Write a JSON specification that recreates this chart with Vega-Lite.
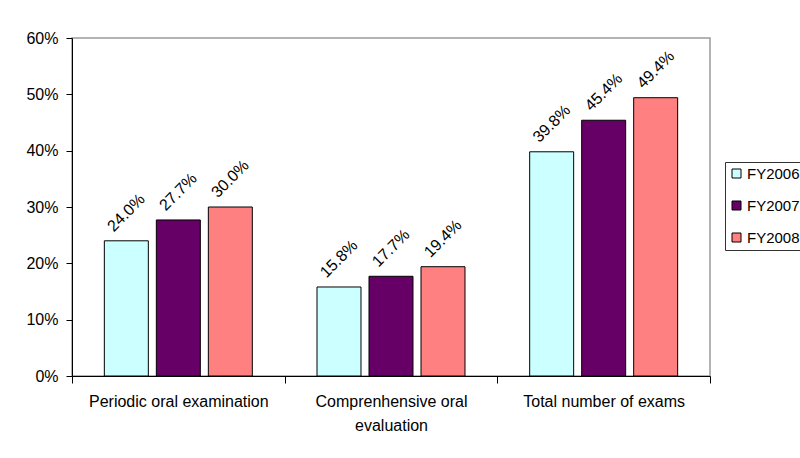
{
  "$schema": "https://vega.github.io/schema/vega-lite/v6.json",
  "autosize": {"type": "none"},
  "width": 638,
  "height": 338,
  "padding": {"left": 72, "top": 38, "right": 90, "bottom": 82},
  "background": "white",
  "config": {
    "font": "Liberation Sans",
    "view": {"stroke": "#9a9a9a", "strokeWidth": 1.5}
  },
  "data": {
    "values": [
      {"measure": "Periodic oral examination", "year": "FY2006", "rate": 0.240},
      {"measure": "Periodic oral examination", "year": "FY2007", "rate": 0.277},
      {"measure": "Periodic oral examination", "year": "FY2008", "rate": 0.300},
      {"measure": "Comprenhensive oral evaluation", "year": "FY2006", "rate": 0.158},
      {"measure": "Comprenhensive oral evaluation", "year": "FY2007", "rate": 0.177},
      {"measure": "Comprenhensive oral evaluation", "year": "FY2008", "rate": 0.194},
      {"measure": "Total number of exams", "year": "FY2006", "rate": 0.398},
      {"measure": "Total number of exams", "year": "FY2007", "rate": 0.454},
      {"measure": "Total number of exams", "year": "FY2008", "rate": 0.494}
    ]
  },
  "encoding": {
    "x": {
      "field": "measure",
      "type": "nominal",
      "sort": null,
      "scale": {"paddingInner": 0, "paddingOuter": 0},
      "axis": {
        "title": null,
        "labelAngle": 0,
        "labelFontSize": 16,
        "labelColor": "black",
        "labelPadding": 10,
        "labelLineHeight": 24,
        "labelExpr": "datum.value == 'Comprenhensive oral evaluation' ? ['Comprenhensive oral', 'evaluation'] : datum.value",
        "domainColor": "black",
        "tickColor": "black",
        "tickSize": 7,
        "tickBand": "extent",
        "grid": false
      }
    },
    "xOffset": {
      "field": "year",
      "type": "nominal",
      "scale": {"paddingInner": 0.154, "paddingOuter": 0.622}
    },
    "y": {
      "field": "rate",
      "type": "quantitative",
      "scale": {"domain": [0, 0.6]},
      "axis": {
        "title": null,
        "format": ".0%",
        "values": [0, 0.1, 0.2, 0.3, 0.4, 0.5, 0.6],
        "labelFontSize": 16,
        "labelColor": "black",
        "labelPadding": 8,
        "domainColor": "black",
        "tickColor": "black",
        "tickSize": 6,
        "grid": false
      }
    }
  },
  "layer": [
    {
      "mark": {"type": "bar", "stroke": "black", "strokeWidth": 1},
      "encoding": {
        "color": {
          "field": "year",
          "type": "nominal",
          "scale": {"domain": ["FY2006", "FY2007", "FY2008"], "range": ["#CCFFFF", "#660066", "#FF8080"]},
          "legend": {
            "title": null,
            "orient": "none",
            "legendX": 653,
            "legendY": 124,
            "strokeColor": "#333333",
            "fillColor": "white",
            "padding": 4,
            "symbolType": "square",
            "symbolSize": 81,
            "symbolStrokeColor": "black",
            "symbolStrokeWidth": 1,
            "symbolOpacity": 1,
            "labelFontSize": 15,
            "labelColor": "black",
            "labelOffset": 3,
            "rowPadding": 16
          }
        }
      }
    },
    {
      "mark": {
        "type": "text",
        "angle": -45,
        "align": "center",
        "baseline": "middle",
        "fontSize": 16,
        "color": "black",
        "yOffset": -28
      },
      "encoding": {
        "text": {"field": "rate", "type": "quantitative", "format": ".1%"}
      }
    }
  ]
}
